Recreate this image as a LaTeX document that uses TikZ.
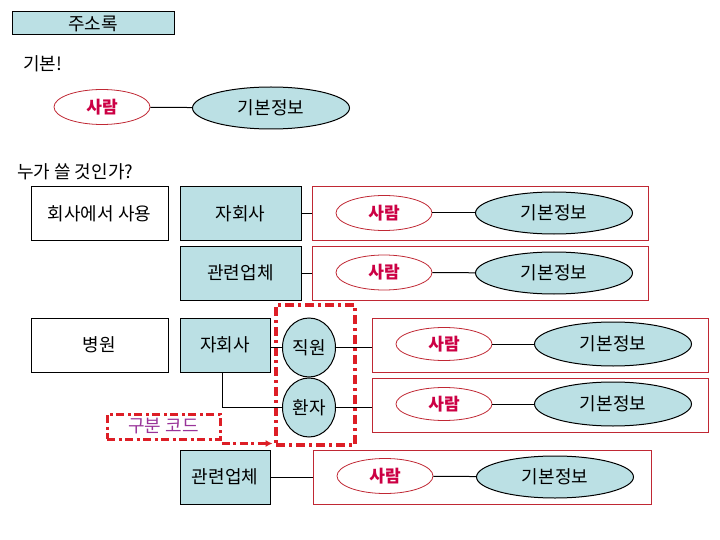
\documentclass[tikz,border=0pt]{standalone}
\usepackage{fontspec}
\setmainfont{Noto Sans CJK KR}
\usetikzlibrary{shapes.geometric,arrows.meta}
\definecolor{lb}{RGB}{187,224,228}
\definecolor{fr}{RGB}{192,40,52}
\definecolor{pt}{RGB}{204,0,68}
\definecolor{dr}{RGB}{221,30,38}
\definecolor{pu}{RGB}{153,51,153}
\tikzset{
  every node/.style={inner sep=0pt, font=\fontsize{18}{21}\selectfont},
  bluebox/.style={rectangle, draw=black, fill=lb, line width=1pt},
  whitebox/.style={rectangle, draw=black, fill=white, line width=1pt},
  frame/.style={rectangle, draw=fr, line width=1pt},
  person/.style={ellipse, draw=fr, fill=white, text=pt, minimum width=96pt, minimum height=35pt, line width=0.8pt, font=\fontsize{17}{20}\selectfont\bfseries},
  info/.style={ellipse, draw=black, fill=lb, minimum width=157pt, minimum height=42pt, line width=1pt},
  role/.style={ellipse, draw=black, fill=lb, minimum width=53pt, minimum height=59pt, line width=1pt},
  dashdot/.style={draw=dr, line width=3.4pt, dash pattern=on 9pt off 4pt on 3pt off 4pt},
  smalldash/.style={draw=dr, line width=3pt, dash pattern=on 8pt off 3.5pt on 3pt off 3.5pt},
  conn/.style={draw=black, line width=1pt},
  lbl/.style={anchor=west}
}
\begin{document}
\begin{tikzpicture}[x=1pt,y=-1pt]
\useasboundingbox (0,0) rectangle (720,540);
% title
\node[bluebox, minimum width=162pt, minimum height=23pt] (title) at (93,23.5) {주소록};
\node[lbl] (basic) at (23,64) {기본!};
\node[person] (p0) at (102,107) {사람};
\node[info] (i0) at (271,108) {기본정보};
\draw[conn] (p0) -- (i0);
\node[lbl] (who) at (17,172) {누가 쓸 것인가?};
% row 1
\node[whitebox, minimum width=137pt, minimum height=54pt] (company) at (99.5,213.5) {회사에서 사용};
\node[bluebox, minimum width=121pt, minimum height=54pt] (sub1) at (240.5,213.5) {자회사};
\node[frame, minimum width=336pt, minimum height=54pt] (f1) at (480,213.5) {};
\node[person] (p1) at (384,213) {사람};
\node[info] (i1) at (554,213) {기본정보};
\draw[conn] (sub1) -- (f1);
\draw[conn] (p1) -- (i1);
% row 2
\node[bluebox, minimum width=121pt, minimum height=54pt] (rel1) at (240.5,273) {관련업체};
\node[frame, minimum width=336pt, minimum height=54pt] (f2) at (480,273) {};
\node[person] (p2) at (384,272.5) {사람};
\node[info] (i2) at (554,273) {기본정보};
\draw[conn] (rel1) -- (f2);
\draw[conn] (p2) -- (i2);
% row 3 hospital
\node[whitebox, minimum width=137pt, minimum height=54pt] (hosp) at (99.5,345) {병원};
\node[bluebox, minimum width=90pt, minimum height=54pt] (sub2) at (225,345) {자회사};
\node[role] (staff) at (309,347.5) {직원};
\node[role] (patient) at (309,407.5) {환자};
\node[rectangle, dashdot, minimum width=79pt, minimum height=140pt] (codebox) at (315.5,375) {};
\draw[conn] (staff.west) -- (staff.west -| sub2.east);
\draw[conn] ([xshift=-3pt]sub2.south) |- (patient.west);
\node[frame, minimum width=336pt, minimum height=54pt] (f3) at (540,345) {};
\node[person, minimum height=33pt] (p3) at (444,344) {사람};
\node[info, minimum height=44pt] (i3) at (613,344) {기본정보};
\draw[conn] (staff.east) -- (staff.east -| f3.west);
\draw[conn] (p3) -- (i3);
\node[frame, minimum width=336pt, minimum height=54pt] (f4) at (540,405) {};
\node[person, minimum height=33pt] (p4) at (444,404) {사람};
\node[info, minimum height=44pt] (i4) at (613,404) {기본정보};
\draw[conn] (patient.east) -- (patient.east -| f4.west);
\draw[conn] (p4) -- (i4);
% code label
\node[rectangle, smalldash, minimum width=113pt, minimum height=25pt, text=pu] (gubun) at (163.5,426.5) {구분 코드};
\coordinate (ga) at ([yshift=-3pt]gubun.south east);
\draw[smalldash, shorten >=1.7pt, -{Latex[length=7pt,width=7pt]}] (ga) -- (ga -| codebox.west);
% row 5
\node[bluebox, minimum width=90pt, minimum height=54pt] (rel2) at (225,477) {관련업체};
\node[frame, minimum width=338pt, minimum height=54pt] (f5) at (482,477) {};
\node[person] (p5) at (385,476) {사람};
\node[info] (i5) at (555,477) {기본정보};
\draw[conn] (rel2) -- (f5);
\draw[conn] (p5) -- (i5);
\end{tikzpicture}
\end{document}
